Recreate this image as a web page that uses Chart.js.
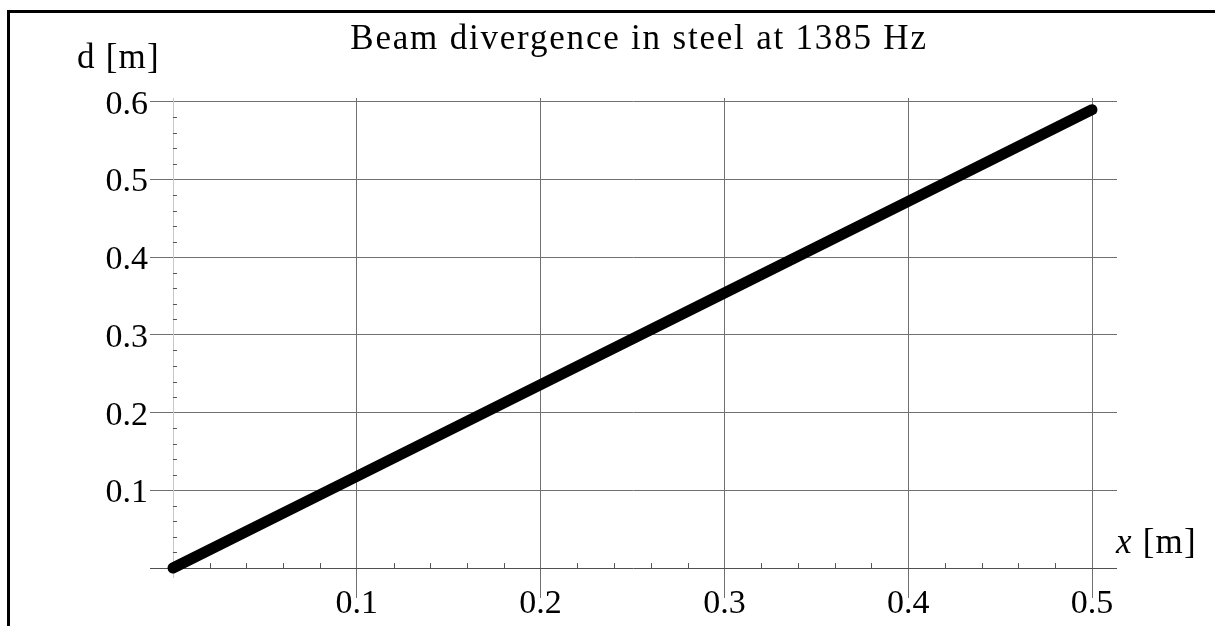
<!DOCTYPE html>
<html>
<head>
<meta charset="utf-8">
<script src="https://cdn.jsdelivr.net/npm/chart.js@4"></script>
<style>
  html, body { margin: 0; padding: 0; background: #fff; overflow: hidden; }
  #frame {
    position: absolute; left: 7px; top: 10px; width: 1300px; height: 700px;
    border-left: 3px solid #000; border-top: 3px solid #000;
  }
  #plot { position: absolute; left: 0; top: 0; }
</style>
</head>
<body>
<div id="frame"></div>
<canvas id="plot" width="1215" height="626"></canvas>
<script>
// values
const xValues = [0, 0.1, 0.2, 0.3, 0.4, 0.5];
const dValues = [0, 0.118, 0.236, 0.354, 0.472, 0.59];
const xTicks = [0.1, 0.2, 0.3, 0.4, 0.5];
const yTicks = [0.1, 0.2, 0.3, 0.4, 0.5, 0.6];

const titleText = "Beam divergence in steel at 1385 Hz";
const yLabel = "d [m]";
const xLabel = "x";
const xUnit = " [m]";

const serif = "'Liberation Serif', 'DejaVu Serif', serif";

// axes at zero, minor ticks, title and axis names
const decorations = {
  id: "decorations",
  beforeDatasetsDraw(chart) {
    const { ctx, scales: { x, y }, chartArea } = chart;
    const x0 = x.getPixelForValue(0);
    const y0 = y.getPixelForValue(0);
    ctx.save();
    // y axis (light)
    ctx.strokeStyle = "#c8c8c8";
    ctx.lineWidth = 1;
    ctx.beginPath();
    ctx.moveTo(Math.round(x0) + 0.5, chartArea.top);
    ctx.lineTo(Math.round(x0) + 0.5, y0 + 10);
    ctx.stroke();
    // x axis
    ctx.strokeStyle = "#505050";
    ctx.beginPath();
    ctx.moveTo(chartArea.left, Math.round(y0) + 0.5);
    ctx.lineTo(chartArea.right, Math.round(y0) + 0.5);
    ctx.stroke();
    // minor ticks
    ctx.strokeStyle = "#555";
    for (let i = 1; i < 30; i++) {
      if (i % 5 === 0) continue;
      const py = Math.round(y.getPixelForValue(i * 0.02)) + 0.5;
      ctx.beginPath();
      ctx.moveTo(x0, py);
      ctx.lineTo(x0 + 4, py);
      ctx.stroke();
    }
    for (let i = 1; i < 26; i++) {
      if (i % 5 === 0) continue;
      const px = Math.round(x.getPixelForValue(i * 0.02)) + 0.5;
      ctx.beginPath();
      ctx.moveTo(px, y0);
      ctx.lineTo(px, y0 - 5);
      ctx.stroke();
    }
    ctx.restore();
  },
  afterDraw(chart) {
    const { ctx, chartArea } = chart;
    ctx.save();
    ctx.fillStyle = "#000";
    ctx.textBaseline = "alphabetic";
    ctx.font = "35px " + serif;
    ctx.letterSpacing = "1.8px";
    ctx.textAlign = "center";
    ctx.fillText(titleText, 639, 49);
    ctx.textAlign = "left";
    ctx.letterSpacing = "1.2px";
    ctx.fillText(yLabel, 77, 68);
    ctx.font = "italic 35px " + serif;
    const w = ctx.measureText(xLabel).width;
    ctx.fillText(xLabel, chartArea.right - 1, 553);
    ctx.font = "35px " + serif;
    ctx.fillText(xUnit, chartArea.right - 1 + w, 553);
    ctx.restore();
  }
};

new Chart(document.getElementById("plot"), {
  type: "line",
  data: {
    datasets: [{
      data: xValues.map((v, i) => ({ x: v, y: dValues[i] })),
      borderColor: "#000",
      borderWidth: 11,
      borderCapStyle: "round",
      pointRadius: 0,
      tension: 0
    }]
  },
  options: {
    responsive: false,
    animation: false,
    layout: { padding: { top: 98, right: 98, left: 0, bottom: 0 } },
    plugins: { legend: { display: false }, tooltip: { enabled: false } },
    scales: {
      x: {
        type: "linear",
        min: -0.0125,
        max: 0.5136,
        afterBuildTicks: s => { s.ticks = xTicks.map(v => ({ value: v })); },
        afterFit: s => { s.height = 38; },
        grid: { color: "#707070", lineWidth: 1, drawTicks: true, tickLength: 10 },
        border: { display: false },
        ticks: {
          color: "#000",
          font: { family: serif, size: 34 },
          padding: -14,
          maxRotation: 0,
          callback: v => String(v)
        }
      },
      y: {
        type: "linear",
        min: -0.0257,
        max: 0.605,
        afterBuildTicks: s => { s.ticks = yTicks.map(v => ({ value: v })); },
        afterFit: s => { s.width = 150; },
        grid: { color: "#707070", lineWidth: 1, drawTicks: false },
        border: { display: false },
        ticks: {
          color: "#000",
          font: { family: serif, size: 34 },
          padding: 2,
          labelOffset: 3,
          callback: v => String(v)
        }
      }
    }
  },
  plugins: [decorations]
});
</script>
</body>
</html>
